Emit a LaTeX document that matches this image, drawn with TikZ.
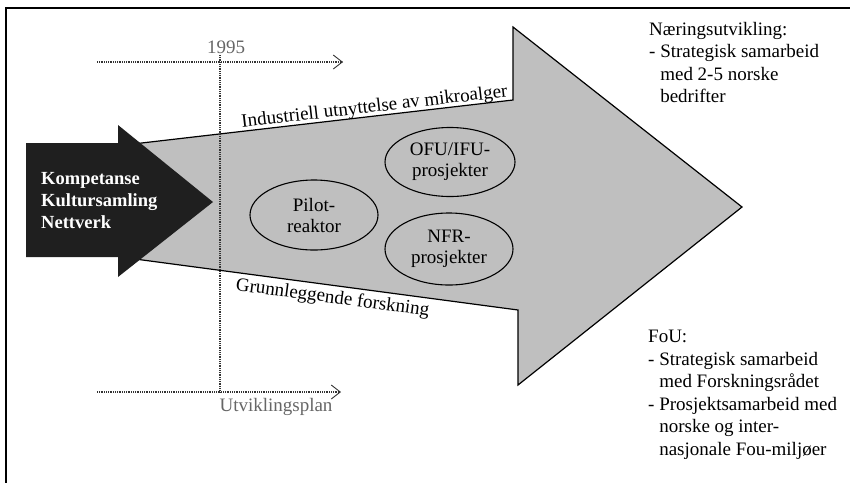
\documentclass[tikz,border=0pt]{standalone}
\usepackage{fontspec}
\setmainfont{Liberation Serif}
\usetikzlibrary{arrows.meta,shapes.geometric}
\begin{document}
\begin{tikzpicture}[x=1pt,y=-1pt,
  txt/.style={font=\fontsize{19}{22.5}\selectfont, inner sep=0pt},
  oval/.style={draw, ellipse, line width=1.1pt, minimum width=128pt, minimum height=70pt,
    inner sep=0pt, align=center, font=\fontsize{19}{21}\selectfont},
  axis/.style={dash pattern=on 1pt off 0.8pt, line width=1.2pt, black!80},
  axarrow/.style={axis, -{Straight Barb[length=9pt,width=14pt,line width=0.9pt]}},
  greytxt/.style={txt, text=black!60}]
\useasboundingbox (0,0) rectangle (850,483);
% frame
\draw[line width=2.4pt] (850,8) -- (6,8) -- (6,483);
% big arrow
\fill[black!25] (120,145.5) -- (513,100) -- (513,27) -- (742,207) -- (518,385) -- (518,310) -- (120,257) -- cycle;
\draw[line width=1.2pt] (120,145.5) -- (513,100) -- (513,27) -- (742,207) -- (518,385) -- (518,310) -- (120,257);
% dark arrow
\fill[black!88] (26,143) -- (118,143) -- (118,125) -- (213,202) -- (118,277) -- (118,257) -- (26,257) -- cycle;
\node[txt, anchor=west, text=white, font=\bfseries\fontsize{18.5}{22}\selectfont, align=left] (komp) at (41,201) {Kompetanse\\Kultursamling\\Nettverk};
% time axes
\coordinate (v0) at (220,55);
\coordinate (v1) at (220,392);
\coordinate (t0) at (97,62);
\coordinate (t1) at (343,62);
\coordinate (b0) at (97,392);
\coordinate (b1) at (341,392);
\draw[axis] (v0) -- (v1);
\draw[axarrow] (t0) -- (t1);
\draw[axarrow] (b0) -- (b1);
\node[greytxt] (y1995) at (226,47) {1995};
\node[greytxt] (plan) at (276,407) {Utviklingsplan};
% edge labels
\node[txt, anchor=base, rotate=6.6] (ind) at (375,112) {Industriell utnyttelse av mikroalger};
\node[txt, anchor=base, rotate=-7.5] (grunn) at (332,303) {Grunnleggende forskning};
% ovals
\node[oval] (pilot) at (314,215) {Pilot-\\reaktor};
\node[oval, minimum width=130pt, minimum height=69pt] (ofu) at (450,162) {OFU/IFU-\\prosjekter};
\node[oval, minimum height=72pt] (nfr) at (449,249) {NFR-\\prosjekter};
% right texts
\node[txt, anchor=north west, align=left] (naer) at (649,22) {N\ae ringsutvikling:\\- Strategisk samarbeid\\\phantom{- }med 2-5 norske\\\phantom{- }bedrifter};
\node[txt, anchor=north west, align=left] (fou) at (648,330) {FoU:\\- Strategisk samarbeid\\\phantom{- }med Forskningsrådet\\- Prosjektsamarbeid med\\\phantom{- }norske og inter-\\\phantom{- }nasjonale Fou-miljøer};
\end{tikzpicture}
\end{document}
